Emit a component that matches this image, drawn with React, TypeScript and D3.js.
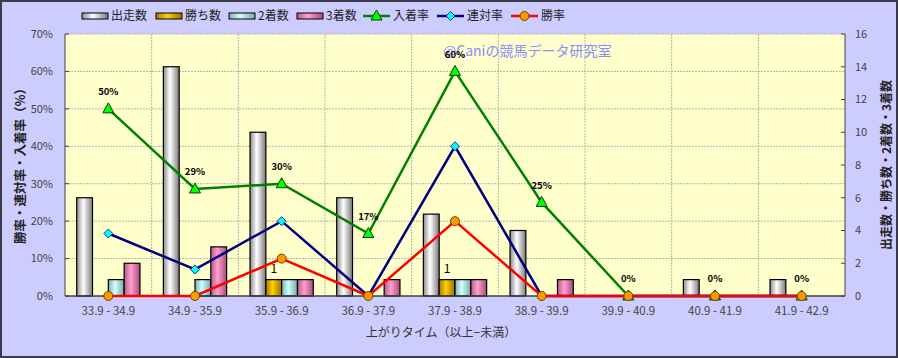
import React from "react";
import * as d3 from "d3";

const categories = ["33.9 - 34.9","34.9 - 35.9","35.9 - 36.9","36.9 - 37.9","37.9 - 38.9","38.9 - 39.9","39.9 - 40.9","40.9 - 41.9","41.9 - 42.9"];
const runs = [6, 14, 10, 6, 5, 4, 0, 1, 1];
const wins = [0, 0, 1, 0, 1, 0, 0, 0, 0];
const seconds = [1, 1, 1, 0, 1, 0, 0, 0, 0];
const thirds = [2, 3, 1, 1, 1, 1, 0, 0, 0];
const placeRate = [50, 28.6, 30, 16.7, 60, 25, 0, 0, 0];
const quinellaRate = [16.7, 7.1, 20, 0, 40, 0, 0, 0, 0];
const winRate = [0, 0, 10, 0, 20, 0, 0, 0, 0];
const placeLabels = ["50%","29%","30%","17%","60%","25%","0%","0%","0%"];
const leftTicks = [0, 10, 20, 30, 40, 50, 60, 70];
const rightTicks = [0, 2, 4, 6, 8, 10, 12, 14, 16];

const W = 898, H = 358;
const PL = 65, PR = 845, PT = 34, PB = 296;
const FONT = "'Noto Sans CJK JP', 'DejaVu Sans', sans-serif";

const barSeries = [
  { key: "runs", name: "出走数", values: runs, grad: "gWhite" },
  { key: "wins", name: "勝ち数", values: wins, grad: "gGold" },
  { key: "seconds", name: "2着数", values: seconds, grad: "gCyan" },
  { key: "thirds", name: "3着数", values: thirds, grad: "gPink" },
];
const lineSeries = [
  { key: "place", name: "入着率", values: placeRate, color: "#008000", fill: "#00FF00", marker: "tri" },
  { key: "quin", name: "連対率", values: quinellaRate, color: "#000080", fill: "#00FFFF", marker: "dia" },
  { key: "win", name: "勝率", values: winRate, color: "#FF0000", fill: "#FF9900", marker: "circ" },
];
const gradients = [
  { id: "gWhite", a: "#8c8c8c", b: "#ffffff", c: "#7a7a7a" },
  { id: "gGold", a: "#a87800", b: "#ffd000", c: "#9a7000" },
  { id: "gCyan", a: "#7fb0b0", b: "#d0ffff", c: "#78a8a8" },
  { id: "gPink", a: "#b85888", b: "#ff9fd0", c: "#a84c7c" },
];
const legendX = [82, 156, 229, 297, 363, 437, 511];

function Marker({ type, x, y, fill }: any) {
  if (type === "tri") {
    const p = `${x},${y - 6} ${x + 5.5},${y + 4} ${x - 5.5},${y + 4}`;
    return <polygon points={p} fill={fill} stroke="#004000" strokeWidth={1} />;
  }
  if (type === "dia") {
    const p = `${x},${y - 4.5} ${x + 4.5},${y} ${x},${y + 4.5} ${x - 4.5},${y}`;
    return <polygon points={p} fill={fill} stroke="#000080" strokeWidth={0.8} />;
  }
  return <circle cx={x} cy={y} r={4.5} fill={fill} stroke="#704000" strokeWidth={1} />;
}

export default function App() {
  const x = d3.scaleBand<string>().domain(categories).range([PL, PR]).padding(0);
  const bw = x.bandwidth();
  const sub = d3.scaleBand<string>().domain(barSeries.map((s) => s.key)).range([11.7, bw - 11.7]).padding(0);
  const yL = d3.scaleLinear().domain([0, 70]).range([PB, PT]);
  const yR = d3.scaleLinear().domain([0, 16]).range([PB, PT]);
  const cx = (i: number) => (x(categories[i]) as number) + bw / 2;

  const lineGen = (vals: number[]) =>
    d3.line<number>().x((_, i) => cx(i)).y((v) => yL(v))(vals) as string;

  return (
    <svg width={W} height={H} style={{ position: "absolute", left: 0, top: 0 }} fontFamily={FONT}>
      <defs>
        {gradients.map((g) => (
          <linearGradient key={g.id} id={g.id} x1="0" x2="1" y1="0" y2="0">
            <stop offset="0" stopColor={g.a} />
            <stop offset="0.42" stopColor={g.b} />
            <stop offset="1" stopColor={g.c} />
          </linearGradient>
        ))}
      </defs>
      <rect x={1} y={1} width={W - 2} height={H - 2} fill="#CCCCFF" stroke="#3a3a48" strokeWidth={2} />
      <rect x={PL} y={PT} width={PR - PL} height={PB - PT} fill="#FFFFCC" />

      {/* gridlines */}
      {leftTicks.slice(1).map((t) => (
        <line key={"h" + t} x1={PL} x2={PR} y1={yL(t)} y2={yL(t)} stroke="#b4b4b4" strokeDasharray="2,1" strokeWidth={1} />
      ))}
      {categories.slice(1).map((c) => (
        <line key={"v" + c} x1={x(c)} x2={x(c)} y1={PT} y2={PB} stroke="#b4b4b4" strokeDasharray="2,1" strokeWidth={1} />
      ))}

      {/* bars */}
      {barSeries.map((s) =>
        s.values.map((v, i) =>
          v > 0 ? (
            <rect key={s.key + i} x={(x(categories[i]) as number) + (sub(s.key) as number)} y={yR(v)}
              width={sub.bandwidth()} height={PB - yR(v)} fill={`url(#${s.grad})`} stroke="#000" strokeWidth={1.2} />
          ) : null
        )
      )}
      {wins.map((v, i) =>
        v > 0 ? (
          <text key={"wl" + i} x={(x(categories[i]) as number) + (sub("wins") as number) + sub.bandwidth() / 2}
            y={yR(v) - 7} textAnchor="middle" fontSize={12} fill="#000">{v}</text>
        ) : null
      )}

      {/* axes */}
      <line x1={PL} x2={PL} y1={PT} y2={PB} stroke="#404040" strokeWidth={1} />
      <line x1={PR} x2={PR} y1={PT} y2={PB} stroke="#404040" strokeWidth={1} />
      <line x1={PL} x2={PR} y1={PB} y2={PB} stroke="#404040" strokeWidth={1.5} />
      {leftTicks.map((t) => (
        <g key={"lt" + t}>
          <line x1={PL} x2={PL + 4} y1={yL(t)} y2={yL(t)} stroke="#404040" />
          <text x={53} y={yL(t)} dy="0.35em" textAnchor="end" fontSize={11} fill="#444">{t}%</text>
        </g>
      ))}
      {rightTicks.map((t) => (
        <g key={"rt" + t}>
          <line x1={PR - 4} x2={PR} y1={yR(t)} y2={yR(t)} stroke="#404040" />
          <text x={855} y={yR(t)} dy="0.35em" textAnchor="start" fontSize={11} fill="#444">{t}</text>
        </g>
      ))}
      {categories.map((c, i) => (
        <text key={"xl" + c} x={cx(i)} y={311} dy="0.35em" textAnchor="middle" fontSize={11.5} fill="#444">{c}</text>
      ))}

      {/* watermark */}
      <text x={443} y={56} fontSize={14} fill="#8c8cff">@Caniの競馬データ研究室</text>

      {/* lines */}
      {lineSeries.map((s) => (
        <g key={s.key}>
          <path d={lineGen(s.values)} fill="none" stroke={s.color} strokeWidth={2.5} />
          {s.values.map((v, i) => (
            <Marker key={s.key + i} type={s.marker} x={cx(i)} y={yL(v)} fill={s.fill} />
          ))}
        </g>
      ))}
      {placeRate.map((v, i) => (
        <text key={"pl" + i} x={cx(i)} y={yL(v) - 17} dy="0.35em" textAnchor="middle" fontSize={9.5} fontWeight="bold" fill="#000">{placeLabels[i]}</text>
      ))}

      {/* axis titles */}
      <text transform="translate(21,163) rotate(-90)" textAnchor="middle" dy="0.35em" fontSize={12.5} fontWeight="bold" fill="#222">勝率・連対率・入着率（%）</text>
      <text transform="translate(887,165) rotate(-90)" textAnchor="middle" dy="0.35em" fontSize={12} fontWeight="bold" fill="#222">出走数・勝ち数・2着数・3着数</text>
      <text x={441} y={333} dy="0.35em" textAnchor="middle" fontSize={12} fill="#333">上がりタイム（以上−未満）</text>

      {/* legend */}
      {barSeries.map((s, k) => (
        <g key={"lg" + s.key}>
          <rect x={legendX[k]} y={13} width={26} height={6} fill={`url(#${s.grad})`} stroke="#000" strokeWidth={1} />
          <text x={legendX[k] + 29} y={16} dy="0.35em" fontSize={12} fill="#222">{s.name}</text>
        </g>
      ))}
      {lineSeries.map((s, k) => {
        const lx = legendX[4 + k];
        return (
          <g key={"lg" + s.key}>
            <line x1={lx} x2={lx + 27} y1={16} y2={16} stroke={s.color} strokeWidth={2.5} />
            <Marker type={s.marker} x={lx + 13.5} y={16} fill={s.fill} />
            <text x={lx + 30} y={16} dy="0.35em" fontSize={12} fill="#222">{s.name}</text>
          </g>
        );
      })}
    </svg>
  );
}
